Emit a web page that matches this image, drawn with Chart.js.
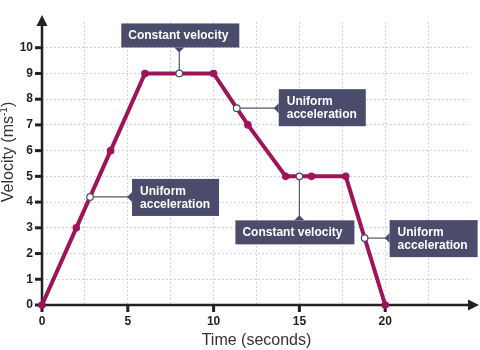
<!DOCTYPE html>
<html>
<head>
<meta charset="utf-8">
<script src="https://cdn.jsdelivr.net/npm/chart.js@4"></script>
<style>
  html, body { margin: 0; padding: 0; background: #fff; }
  #graphique { display: block; }
</style>
</head>
<body>
<canvas id="graphique" width="480" height="350"></canvas>
<script>
// velocity-time profile
const times = [0, 2, 4, 6, 10, 12, 14.2, 15.7, 17.7, 20];
const velocities = [0, 3, 6, 9, 9, 7, 5, 5, 5, 0];

// points picked out by the callouts
const noteTimes = [8, 11.35, 2.8, 15, 18.8];
const noteVelocities = [9, 7.65, 4.2, 5, 2.6];
const noteTexts = [
    ['Constant velocity'],
    ['Uniform', 'acceleration'],
    ['Uniform', 'acceleration'],
    ['Constant velocity'],
    ['Uniform', 'acceleration']
];

const xLabels = [0, 5, 10, 15, 20];
const yLabels = [0, 1, 2, 3, 4, 5, 6, 7, 8, 9, 10];

// box placement relative to the marked point (pixels)
const noteBoxes = [
    { side: 'above', dx: -58, dy: -50, w: 118, h: 24 },
    { side: 'right', dx: 42, dy: -19, w: 87, h: 37 },
    { side: 'right', dx: 42, dy: -18, w: 87, h: 37 },
    { side: 'below', dx: -64, dy: 44, w: 119, h: 24 },
    { side: 'right', dx: 25, dy: -18, w: 88, h: 37 }
];

const lineColor = '#9e1458';
const boxColor = '#4b4b6b';
const axisColor = '#222';
const fontFamily = 'Arial, "Liberation Sans", sans-serif';

// axes with arrow heads, tick marks and the vertical title
const axesPlugin = {
    id: 'axes',
    beforeDatasetsDraw(chart) {
        const ctx = chart.ctx;
        const xs = chart.scales.x, ys = chart.scales.y;
        const x0 = xs.getPixelForValue(0), y0 = ys.getPixelForValue(0);
        ctx.save();
        ctx.strokeStyle = axisColor;
        ctx.fillStyle = axisColor;
        ctx.lineWidth = 2.5;
        ctx.beginPath();
        ctx.moveTo(x0, y0);
        ctx.lineTo(x0, 22);
        ctx.moveTo(x0, y0);
        ctx.lineTo(472, y0);
        ctx.stroke();
        // arrows
        ctx.beginPath();
        ctx.moveTo(x0, 15);
        ctx.lineTo(x0 - 5.5, 26);
        ctx.lineTo(x0 + 5.5, 26);
        ctx.closePath();
        ctx.fill();
        ctx.beginPath();
        ctx.moveTo(479, y0);
        ctx.lineTo(468, y0 - 5.5);
        ctx.lineTo(468, y0 + 5.5);
        ctx.closePath();
        ctx.fill();
        // tick marks
        yLabels.forEach(v => {
            const y = ys.getPixelForValue(v);
            ctx.fillRect(x0 - 7, y - 1.5, 7, 3);
        });
        xLabels.forEach(v => {
            const x = xs.getPixelForValue(v);
            ctx.fillRect(x - 1.5, y0, 3, 7);
        });

        // y title with a real superscript
        ctx.translate(9, 152);
        ctx.rotate(-Math.PI / 2);
        ctx.fillStyle = '#333';
        ctx.textBaseline = 'middle';
        ctx.textAlign = 'left';
        const main = 'Velocity (ms';
        const sup = '-1';
        ctx.font = '16px ' + fontFamily;
        const wMain = ctx.measureText(main).width;
        const wClose = ctx.measureText(')').width;
        ctx.font = '10px ' + fontFamily;
        const wSup = ctx.measureText(sup).width;
        let x = -(wMain + wSup + wClose) / 2;
        ctx.font = '16px ' + fontFamily;
        ctx.fillText(main, x, 0);
        x += wMain;
        ctx.font = '10px ' + fontFamily;
        ctx.fillText(sup, x, -5);
        x += wSup;
        ctx.font = '16px ' + fontFamily;
        ctx.fillText(')', x, 0);
        ctx.restore();
    }
};

// callout boxes, connectors and open markers
const notesPlugin = {
    id: 'notes',
    afterDatasetsDraw(chart) {
        const ctx = chart.ctx;
        const xs = chart.scales.x, ys = chart.scales.y;
        ctx.save();
        noteTimes.forEach((t, i) => {
            const px = xs.getPixelForValue(t);
            const py = ys.getPixelForValue(noteVelocities[i]);
            const b = noteBoxes[i];
            const bx = px + b.dx, by = py + b.dy;

            ctx.strokeStyle = '#55556e';
            ctx.lineWidth = 1.2;
            ctx.beginPath();
            ctx.moveTo(px, py);
            if (b.side === 'above') ctx.lineTo(px, by + b.h);
            else if (b.side === 'below') ctx.lineTo(px, by);
            else ctx.lineTo(bx, py);
            ctx.stroke();

            ctx.fillStyle = boxColor;
            ctx.fillRect(bx, by, b.w, b.h);
            // little notch pointing at the line
            ctx.beginPath();
            if (b.side === 'above') {
                ctx.moveTo(px - 5, by + b.h);
                ctx.lineTo(px, by + b.h + 5);
                ctx.lineTo(px + 5, by + b.h);
            } else if (b.side === 'below') {
                ctx.moveTo(px - 5, by);
                ctx.lineTo(px, by - 5);
                ctx.lineTo(px + 5, by);
            } else {
                ctx.moveTo(bx, py - 5);
                ctx.lineTo(bx - 5, py);
                ctx.lineTo(bx, py + 5);
            }
            ctx.closePath();
            ctx.fill();

            ctx.fillStyle = '#fff';
            ctx.font = 'bold 12px ' + fontFamily;
            ctx.textBaseline = 'middle';
            ctx.textAlign = 'left';
            const lines = noteTexts[i];
            if (lines.length === 1) {
                ctx.fillText(lines[0], bx + 7, by + b.h / 2);
            } else {
                ctx.fillText(lines[0], bx + 8, by + 12.5);
                ctx.fillText(lines[1], bx + 8, by + 26);
            }

            ctx.beginPath();
            ctx.arc(px, py, 3.3, 0, Math.PI * 2);
            ctx.fillStyle = '#fff';
            ctx.fill();
            ctx.strokeStyle = boxColor;
            ctx.lineWidth = 1.2;
            ctx.stroke();
        });
        ctx.restore();
    }
};

const gridColor = (axisMax) => (c) => {
    const v = c.tick ? c.tick.value : null;
    if (v === 0 || v === axisMax) return 'rgba(0,0,0,0)';
    return '#d0d0ec';
};

const ctx = document.getElementById('graphique').getContext('2d');
const graphique = new Chart(ctx, {
    type: 'line',
    data: {
        datasets: [{
            data: times.map((t, i) => ({ x: t, y: velocities[i] })),
            borderColor: lineColor,
            backgroundColor: lineColor,
            borderWidth: 4,
            pointRadius: 3.8,
            pointBorderWidth: 0,
            pointBackgroundColor: lineColor,
            tension: 0,
            clip: false
        }]
    },
    options: {
        responsive: false,
        animation: false,
        layout: { padding: { left: 0, right: 8, top: 22, bottom: 0 } },
        plugins: {
            legend: { display: false },
            tooltip: { enabled: false }
        },
        scales: {
            x: {
                type: 'linear',
                min: 0,
                max: 25,
                afterFit: s => { s.height = 45; },
                grid: { color: gridColor(25), lineWidth: 1, drawTicks: false },
                border: { display: false, dash: [2, 2] },
                ticks: {
                    stepSize: 2.5,
                    autoSkip: false,
                    maxRotation: 0,
                    padding: 9,
                    color: '#222',
                    font: { family: fontFamily, size: 12, weight: 'bold' },
                    callback: v => xLabels.includes(v) ? String(v) : ''
                },
                title: {
                    display: true,
                    text: 'Time (seconds)',
                    color: '#333',
                    padding: { top: 0, bottom: 0 },
                    font: { family: fontFamily, size: 16 }
                }
            },
            y: {
                min: 0,
                max: 11,
                afterFit: s => { s.width = 42; },
                grid: { color: gridColor(11), lineWidth: 1, drawTicks: false },
                border: { display: false, dash: [2, 2] },
                ticks: {
                    stepSize: 1,
                    padding: 9,
                    color: '#222',
                    font: { family: fontFamily, size: 12, weight: 'bold' },
                    callback: v => yLabels.includes(v) ? String(v) : ''
                }
            }
        }
    },
    plugins: [axesPlugin, notesPlugin]
});
</script>
</body>
</html>
